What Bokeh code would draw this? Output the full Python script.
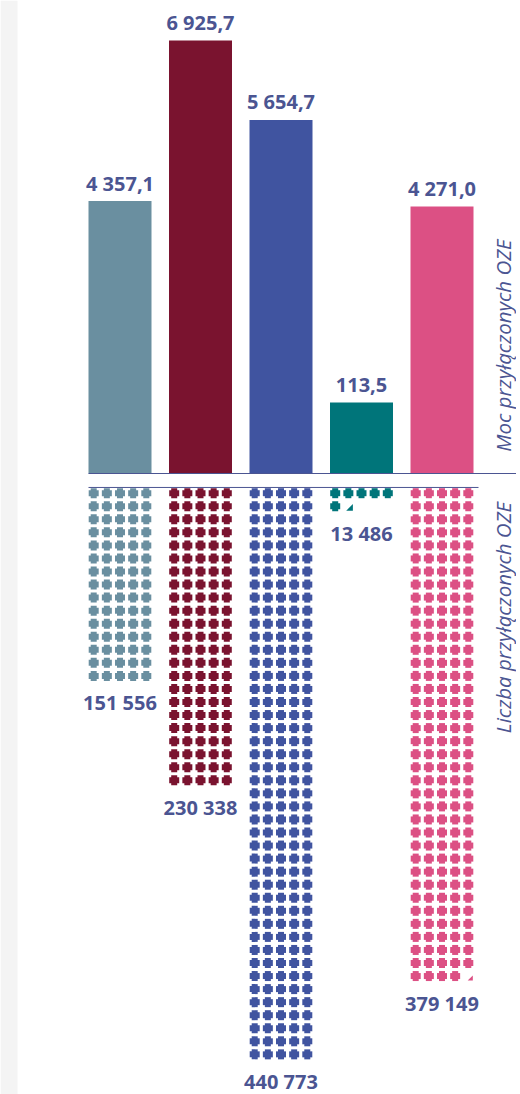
import math
from bokeh.plotting import figure
from bokeh.models import Range1d, BoxAnnotation
from bokeh.core.properties import value
from bokeh.embed import file_html
from bokeh.resources import INLINE

# ---------------- data ----------------
categories = ["c1", "c2", "c3", "c4", "c5"]
moc_values = [4357.1, 6925.7, 5654.7, 113.5, 4271.0]          # MW (labels)
moc_drawn = [4357.1, 6925.7, 5654.7, 1135.0, 4271.0]           # bar heights as drawn in the picture
moc_labels = ["4 357,1", "6 925,7", "5 654,7", "113,5", "4 271,0"]
liczba_values = [151556, 230338, 440773, 13486, 379149]
liczba_labels = ["151 556", "230 338", "440 773", "13 486", "379 149"]
icons_drawn = [75, 115, 220, 6.74, 189.57]                     # icons shown (1 icon ~ 2000)
colors = ["#6a8fa0", "#7a132f", "#4054a0", "#00757a", "#dc5084"]
axis_titles = ["Moc przyłączonych OZE", "Liczba przyłączonych OZE"]

TXT = "#4b5592"
W, H = 516, 1094
PAGE0 = 0
# layout (page pixels)
CX0, DX = 119.5, 80.5           # first bar centre, spacing
BASE = 473.0                    # bar baseline
PX_PER_VAL = 433.0 / 6925.7
ROW0, DROW = 492.7, 13.05       # first icon row, row spacing
DCOL = 13.15
NCOL = 5


def px_x(px):
    return (px - CX0) / DX


def px_val(py):
    return (BASE - py) / PX_PER_VAL


def px_row(py):
    return (py - ROW0) / DROW


p = figure(width=W, height=H, output_backend="svg", toolbar_location=None,
           x_range=Range1d(px_x(PAGE0), px_x(PAGE0 + W)),
           y_range=Range1d(px_val(PAGE0 + H), px_val(PAGE0)),
           x_axis_location=None, y_axis_location=None, min_border=0,
           outline_line_color=None, background_fill_color="white",
           border_fill_color="white")
p.grid.visible = False
p.extra_y_ranges = {"rows": Range1d(px_row(PAGE0 + H), px_row(PAGE0))}

# left grey strip
p.add_layout(BoxAnnotation(left=px_x(PAGE0), right=px_x(17), fill_color="#f4f4f4",
                           fill_alpha=1, line_color=None))

xs = list(range(len(categories)))
bw = 63.0 / DX

# bars
p.vbar(x=xs, top=moc_drawn, bottom=0, width=bw, fill_color=colors, line_color=None)
p.text(x=xs, y=moc_drawn, text=moc_labels, text_font=value("Open Sans"),
       text_font_style="bold", text_font_size="20px", text_color=TXT,
       text_align="center", text_baseline="alphabetic", y_offset=-18)

# separator lines
p.segment(x0=[px_x(88)], y0=[0], x1=[px_x(PAGE0 + W)], y1=[0], line_color=TXT, line_width=1)
p.segment(x0=[px_x(88)], y0=[-0.44], x1=[px_x(478)], y1=[-0.44], line_color=TXT,
          line_width=1, y_range_name="rows")

# icons
ix, iy, ic = [], [], []
tri_x, tri_y, tri_c = [], [], []
last_rows = []
ux = 1.0 / DX      # one pixel in x units
uy = 1.0 / DROW    # one pixel in row units
for i, n in enumerate(icons_drawn):
    full = int(math.floor(n))
    frac = n - full
    for k in range(full):
        r, c = divmod(k, NCOL)
        ix.append(i + (c - 2) * DCOL / DX)
        iy.append(r)
        ic.append(colors[i])
    last = (full - 1) // NCOL
    if frac > 0.05:
        r, c = divmod(full, NCOL)
        cx = i + (c - 2) * DCOL / DX
        leg = 9.0 * frac
        tri_x.append([cx + 4.5 * ux, cx + (4.5 - leg) * ux, cx + 4.5 * ux])
        tri_y.append([r + 4.5 * uy, r + 4.5 * uy, r + (4.5 - leg) * uy])
        tri_c.append(colors[i])
        last = r
    last_rows.append(last)

p.rect(x=ix, y=iy, width=10, height=6, width_units="screen", height_units="screen",
       fill_color=ic, line_color=None, y_range_name="rows")
p.rect(x=ix, y=iy, width=6, height=10, width_units="screen", height_units="screen",
       fill_color=ic, line_color=None, y_range_name="rows")
p.patches(xs=tri_x, ys=tri_y, fill_color=tri_c, line_color=None, y_range_name="rows")

p.text(x=xs, y=last_rows, text=liczba_labels, text_font=value("Open Sans"),
       text_font_style="bold", text_font_size="20px", text_color=TXT,
       text_align="center", text_baseline="alphabetic", y_offset=27, y_range_name="rows")

# rotated titles
p.text(x=[px_x(502)], y=[px_val(345)], text=[axis_titles[0]], angle=math.pi / 2,
       text_font=value("Open Sans"), text_font_style="italic", text_font_size="20.5px",
       text_color=TXT, text_align="center", text_baseline="middle")
p.text(x=[px_x(502)], y=[px_row(617)], text=[axis_titles[1]], angle=math.pi / 2,
       text_font=value("Open Sans"), text_font_style="italic", text_font_size="20.5px",
       text_color=TXT, text_align="center", text_baseline="middle", y_range_name="rows")

open("out.html", "w").write(file_html(p, INLINE))
